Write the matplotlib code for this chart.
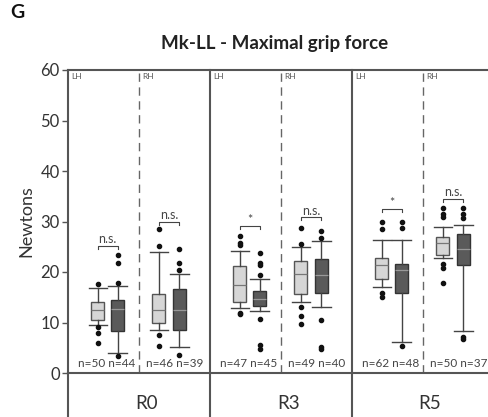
import matplotlib
matplotlib.use("Agg")
import matplotlib.pyplot as plt

# data (Newtons)
groups = ["R0", "R3", "R5"]
hands = ["LH", "RH"]
n_labels = ["n=50 n=44", "n=46 n=39", "n=47 n=45", "n=49 n=40", "n=62 n=48", "n=50 n=37"]

# box order: R0-LH light, R0-LH dark, R0-RH light, R0-RH dark, R3 ..., R5 ...
q1 = [10.5, 8.4, 10.0, 8.6, 14.1, 13.3, 15.6, 15.9, 18.7, 15.9, 23.4, 21.4]
med = [12.4, 12.6, 12.5, 12.5, 17.4, 14.6, 19.7, 19.4, 21.4, 20.3, 25.7, 24.5]
q3 = [14.1, 14.5, 15.6, 16.6, 21.2, 16.3, 22.2, 22.5, 22.8, 21.6, 26.9, 27.5]
whis_lo = [9.6, 3.9, 8.5, 5.2, 12.9, 12.3, 14.1, 13.1, 17.1, 6.2, 22.7, 8.3]
whis_hi = [16.8, 17.2, 24.0, 19.7, 24.2, 18.6, 25.0, 26.2, 26.3, 26.3, 29.0, 29.3]
outliers = [
    [17.6, 9.2, 7.9, 6.0],
    [17.8, 21.7, 23.4, 3.4],
    [28.6, 25.1, 7.5, 5.3],
    [20.4, 21.8, 24.5, 3.6],
    [25.3, 25.8, 27.2, 11.9, 11.6],
    [19.4, 21.3, 21.7, 23.7, 10.6, 5.5, 4.7],
    [25.5, 28.8, 13.1, 11.2, 9.8],
    [26.8, 28.1, 10.4, 5.2, 4.7],
    [28.5, 30.0, 15.9, 15.0],
    [28.7, 30.0, 5.3],
    [30.8, 31.4, 32.6, 21.6, 20.7, 17.9],
    [30.6, 31.4, 32.6, 7.2, 6.7],
]
sig_level = [25.2, 30.0, 29.1, 30.8, 32.4, 34.5]
sig_text = ["n.s.", "n.s.", "*", "n.s.", "*", "n.s."]

plt.rcParams["font.family"] = ["Lato", "DejaVu Sans"]

fig = plt.figure(figsize=(4.89, 4.17), dpi=100)
ax = fig.add_axes([68 / 489, 44 / 417, 426 / 489, 303 / 417])

# x positions inside each half panel (panel k spans k..k+1)
offs = {"LH": (0.42, 0.70), "RH": (0.28, 0.57)}
light = "#d6d6d6"
dark = "#5a5a5a"

for p in range(6):
    hand = hands[p % 2]
    for j in range(2):
        i = 2 * p + j
        x = p + offs[hand][j]
        st = dict(med=med[i], q1=q1[i], q3=q3[i], whislo=whis_lo[i],
                  whishi=whis_hi[i], fliers=outliers[i])
        ax.bxp([st], positions=[x], widths=0.18, capwidths=0.26,
               patch_artist=True, manage_ticks=False,
               boxprops=dict(facecolor=light if j == 0 else dark,
                             edgecolor="#555555" if j == 0 else "#333333", lw=1.0),
               medianprops=dict(color="#777777" if j == 0 else "#999999", lw=0.9),
               whiskerprops=dict(color="#444444", lw=1.0),
               capprops=dict(color="#444444", lw=1.0),
               flierprops=dict(marker="o", markersize=3, markerfacecolor="#111111",
                               markeredgecolor="#111111"))
    # significance bracket
    x0, x1 = p + offs[hand][0], p + offs[hand][1]
    y = sig_level[p]
    ax.plot([x0, x0, x1, x1], [y - 0.6, y, y, y - 0.6], color="#444444", lw=0.8)
    ax.text((x0 + x1) / 2, y + 0.1, sig_text[p], ha="center", va="bottom",
            fontsize=9, color="#444444")
    # n labels and LH/RH tags
    ax.text(p + (0.55 if hand == "LH" else 0.5), 0.8, n_labels[p], ha="center",
            va="bottom", fontsize=8.5, color="#444444")
    ax.text(p + 0.04, 59.5, hand, ha="left", va="top", fontsize=6, color="#555555")

# separators
for k in [1, 3, 5]:
    ax.axvline(k, color="#666666", lw=1.0, ls=(0, (6, 4)))
for k in [2, 4, 6]:
    ax.plot([k, k], [-9, 60], color="#555555", lw=1.5, clip_on=False)
ax.plot([0, 0], [-9, 0], color="#555555", lw=1.5, clip_on=False)

for g, name in enumerate(groups):
    ax.text(2 * g + 1.1, -6.0, name, ha="center", va="center", fontsize=13.5,
            color="#333333")

ax.set_xlim(0, 6)
ax.set_ylim(0, 60)
ax.set_xticks([])
ax.set_yticks(range(0, 61, 10))
ax.tick_params(axis="y", labelsize=12, colors="#555555", labelcolor="#333333",
               length=4, width=1, pad=2)
for s in ["left", "top", "bottom"]:
    ax.spines[s].set_color("#555555")
    ax.spines[s].set_linewidth(1.5)
ax.spines["right"].set_visible(False)
ax.set_ylabel("Newtons", fontsize=13, color="#333333", labelpad=4)

fig.text(275 / 489, 1 - 43 / 417, "Mk-LL - Maximal grip force", ha="center",
         va="center", fontsize=13.5, fontweight="bold", color="#222222")
fig.text(10 / 489, 1 - 12 / 417, "G", ha="left", va="center", fontsize=14,
         fontweight="bold", color="#111111")

fig.savefig("out.png", dpi=100)
